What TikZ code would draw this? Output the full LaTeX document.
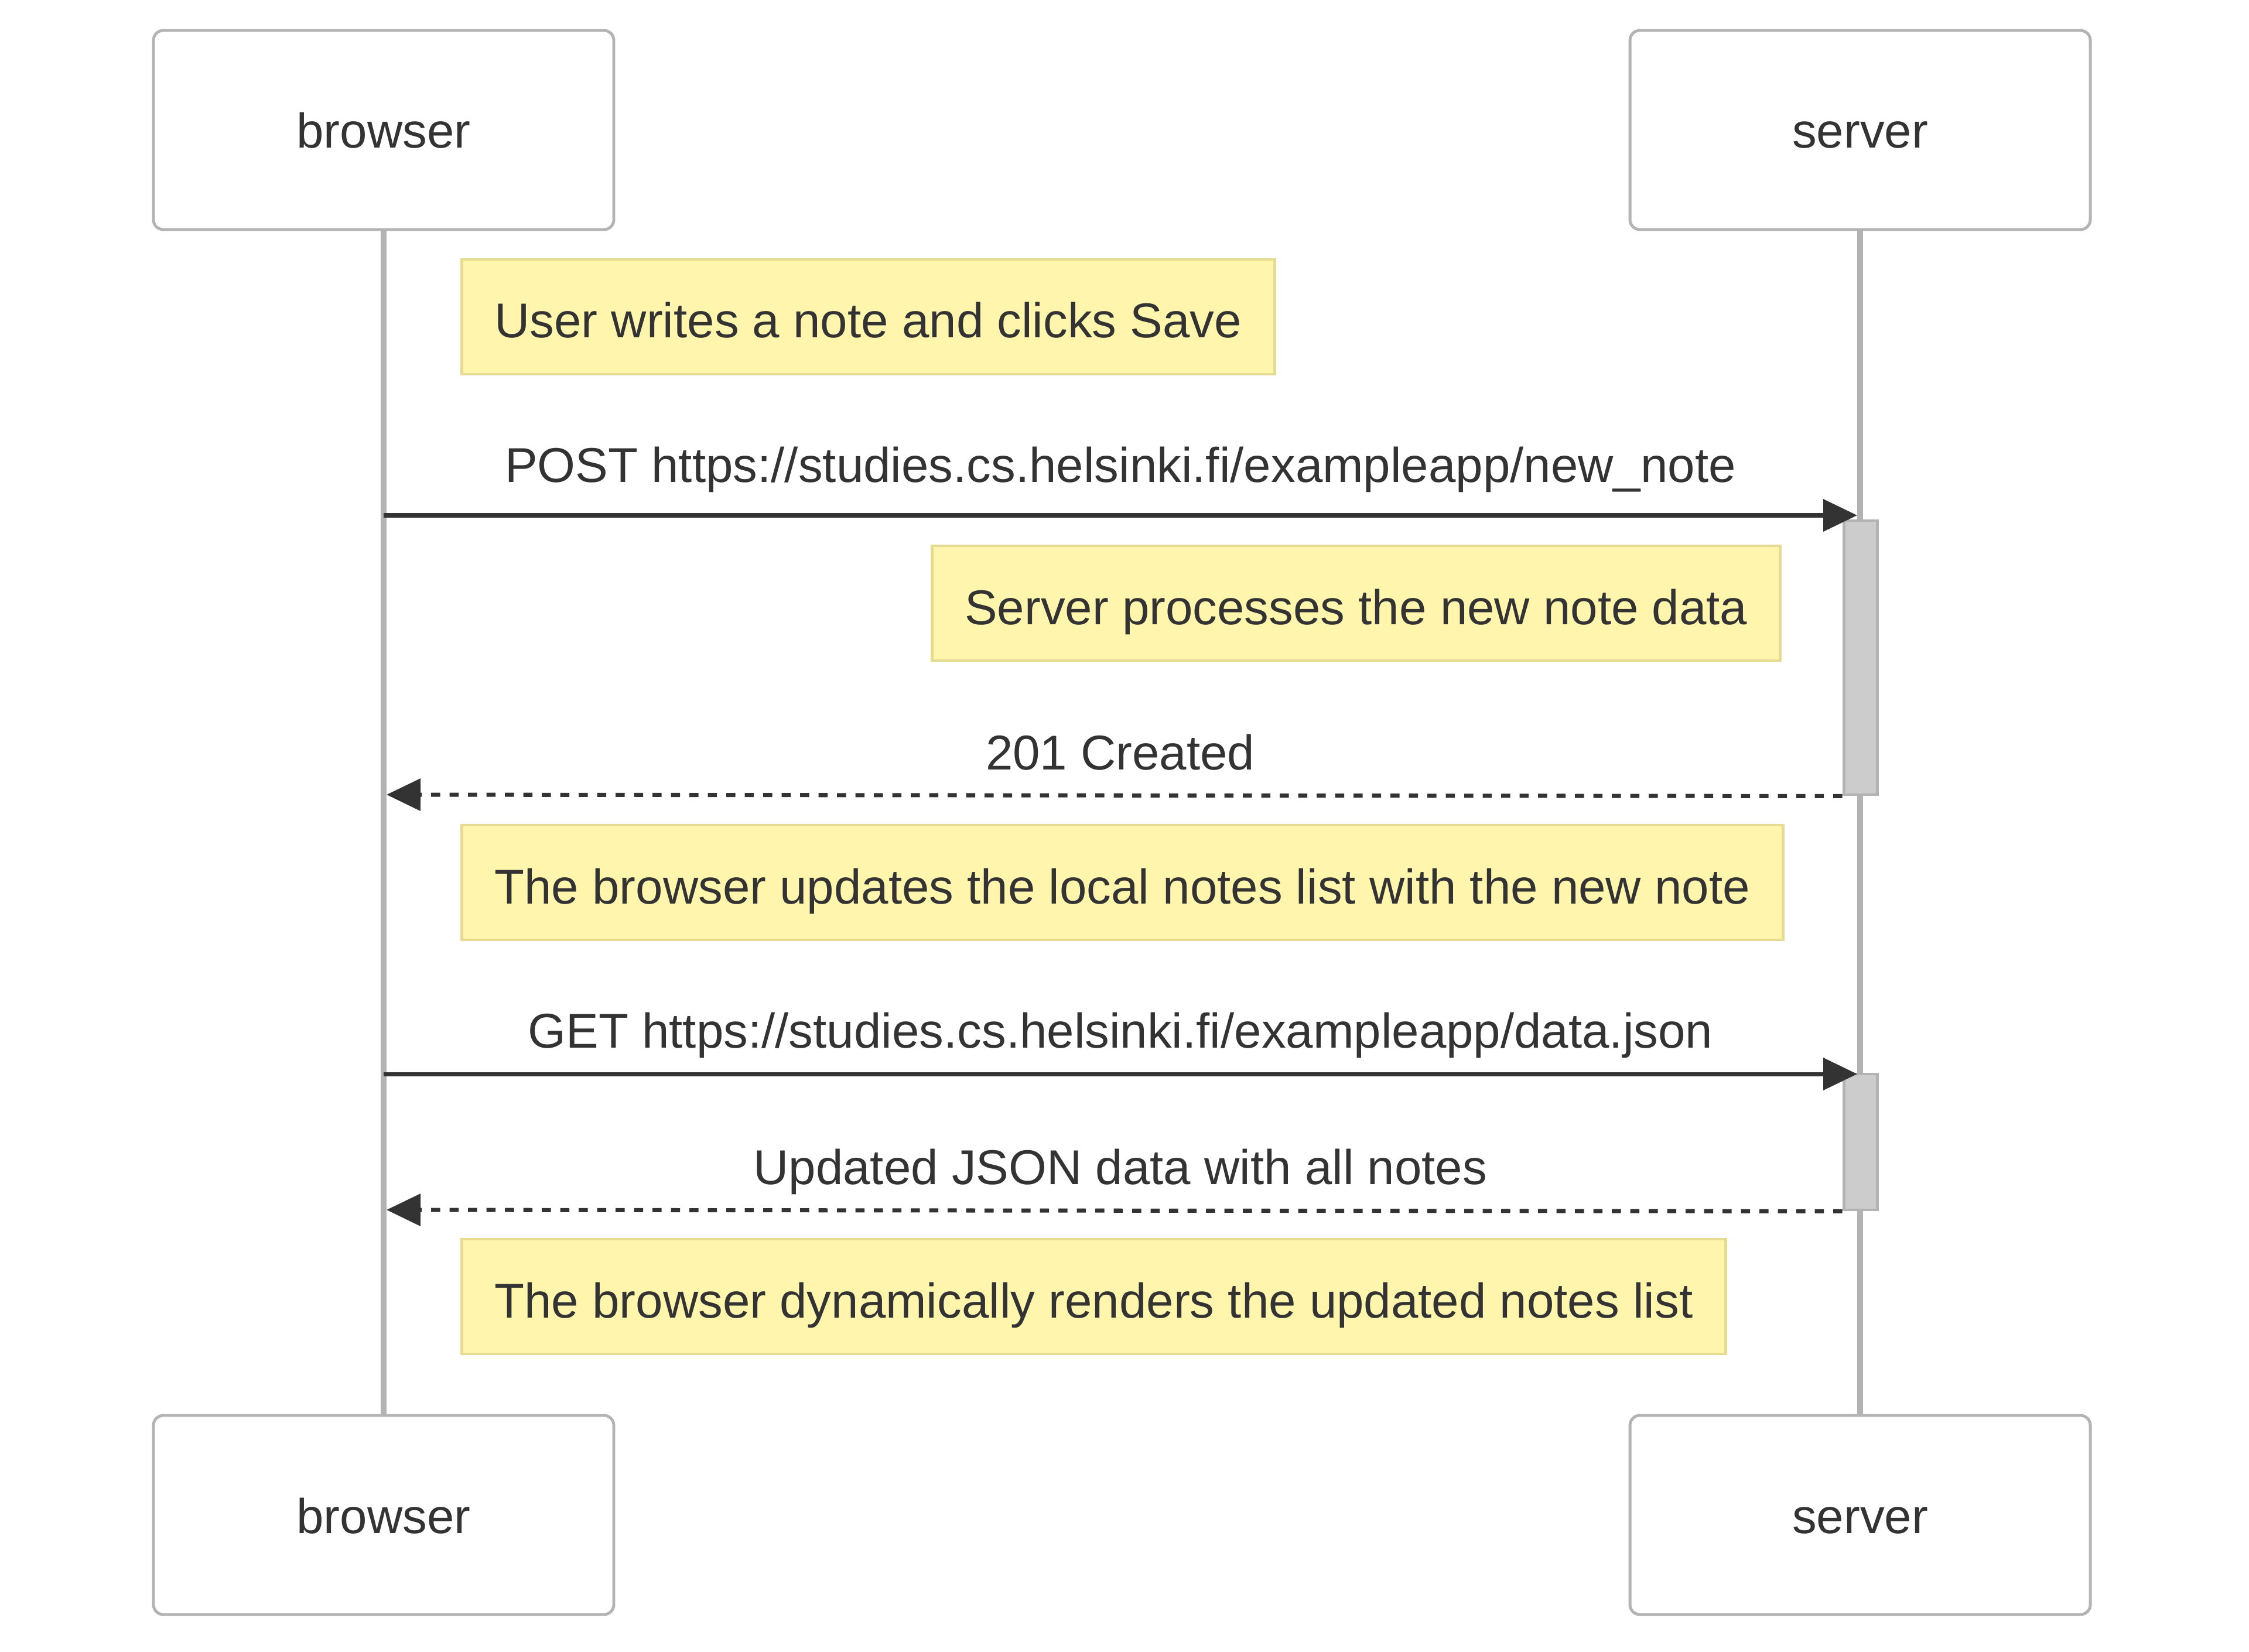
\documentclass[tikz,border=0pt]{standalone}
\usepackage{fontspec}
\setmainfont{Liberation Sans}[Ligatures=NoCommon]
\usepackage{tikz}
\usetikzlibrary{arrows.meta,positioning}

\definecolor{txtgray}{HTML}{333333}
\definecolor{linegray}{HTML}{B3B3B3}
\definecolor{notefill}{HTML}{FFF5AD}
\definecolor{noteline}{HTML}{E6DB90}
\definecolor{actfill}{HTML}{CCCCCC}

\tikzset{
  actor/.style={draw=linegray, line width=1.4pt, rounded corners=4.8pt, fill=white,
    minimum width=7.86cm, minimum height=3.40cm, text=txtgray, text height=0.62cm, text depth=0pt},
  note/.style={draw=noteline, line width=1.4pt, fill=notefill, minimum height=1.96cm,
    inner xsep=0.56cm, text=txtgray, text height=0.72cm, text depth=0pt},
  lifeline/.style={linegray, line width=2.8pt},
  activation/.style={draw=linegray, line width=1.4pt, fill=actfill, minimum width=0.57cm, inner sep=0pt},
  msg/.style={txtgray, line width=2pt, -{Triangle[length=0.58cm,width=0.54cm]}},
  reply/.style={msg, dash pattern=on 0.155cm off 0.16cm},
  msglabel/.style={text=txtgray, anchor=base, inner sep=0pt}
}

\begin{document}
\begin{tikzpicture}[x=1cm, y=-1cm, font=\fontsize{23.75}{28.5}\selectfont]
    \useasboundingbox (0,0) rectangle (38.40,28.21);

    % Actors
    \node[actor] (browsertop) at (6.55,2.22) {browser};
    \node[actor] (servertop) at (31.76,2.22) {server};
    \node[actor] (browserbot) at (6.55,25.87) {browser};
    \node[actor] (serverbot) at (31.76,25.87) {server};

    % Lifelines
    \draw[lifeline] (browsertop) -- (browserbot);
    \draw[lifeline] (servertop) -- (serverbot);

    % Activations
    \node[activation, minimum height=4.68cm] (postact) at (31.765,11.23) {};
    \node[activation, minimum height=2.32cm] (getact) at (31.765,19.50) {};

    % Notes
    \node[note, anchor=west] (savenote) at (7.86,5.41) {User writes a note and clicks Save};
    \node[note, anchor=east] (processnote) at (30.42,10.30) {Server processes the new note data};
    \node[note, anchor=west] (updatenote) at (7.86,15.07) {The browser updates the local notes list with the new note};
    \node[note, anchor=west] (rendernote) at (7.86,22.14) {The browser dynamically renders the updated notes list};

    % Message ends
    \coordinate (postfrom) at (6.55,8.80);
    \coordinate (postto) at (31.71,8.80);
    \coordinate (createdto) at (6.60,13.57);
    \coordinate (getfrom) at (6.55,18.34);
    \coordinate (getto) at (31.71,18.34);
    \coordinate (datato) at (6.60,20.66);

    % Messages
    \draw[msg] (postfrom) -- node[msglabel, yshift=0.57cm] (postlabel) {POST https://studies.cs.helsinki.fi/exampleapp/new\_note} (postto);
    \draw[reply] (postact.south west) -- node[msglabel, xshift=0.1cm, yshift=0.44cm] (createdlabel) {201 Created} (createdto);
    \draw[msg] (getfrom) -- node[msglabel, yshift=0.45cm] (getlabel) {GET https://studies.cs.helsinki.fi/exampleapp/data.json} (getto);
    \draw[reply] (getact.south west) -- node[msglabel, xshift=0.1cm, yshift=0.45cm] (datalabel) {Updated JSON data with all notes} (datato);
\end{tikzpicture}
\end{document}
